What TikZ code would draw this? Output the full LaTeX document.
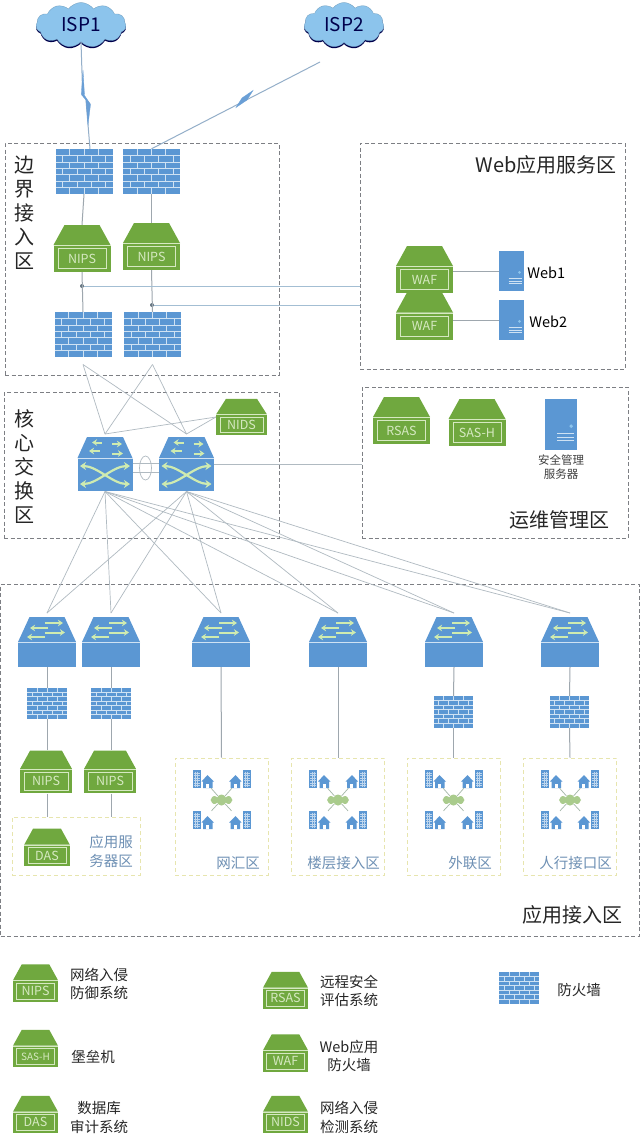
\documentclass[tikz,border=0pt]{standalone}
\usepackage{fontspec}
\setsansfont{Noto Sans CJK SC}
\usepackage{tikz}
\usetikzlibrary{shapes.geometric, shapes.symbols, arrows.meta, positioning, calc, shadows}
\definecolor{boxgreen}{HTML}{70A83F}
\definecolor{boxpale}{HTML}{D6E9C2}
\definecolor{netblue}{HTML}{5B97D3}
\definecolor{brickpale}{HTML}{CFE2F3}
\definecolor{arrowpale}{HTML}{CFEBB0}
\definecolor{skyblue}{HTML}{8CC4EC}
\definecolor{linkgray}{HTML}{B0BAC1}
\definecolor{tapblue}{HTML}{A3BED3}
\definecolor{zonegray}{HTML}{7D7F84}
\definecolor{sitegold}{HTML}{E7E5AE}
\definecolor{sitetext}{HTML}{6E90B4}
\definecolor{boltblue}{HTML}{6A9FD6}

\begin{document}
\begin{tikzpicture}[
        x=1pt, y=-1pt,
        font=\sffamily,
        zone/.style = {rectangle, draw=zonegray, line width=0.8pt, dash pattern=on 4pt off 2.5pt, inner sep=0pt},
        site_zone/.style = {rectangle, draw=sitegold, line width=0.9pt, dash pattern=on 4pt off 3pt, inner sep=0pt},
        zone_title/.style = {font=\sffamily\fontsize{20}{24}\selectfont, text=black!85, inner sep=0pt, align=center},
        site_title/.style = {font=\sffamily\fontsize{14.5}{19}\selectfont, text=sitetext, inner sep=0pt, align=center},
        legend_text/.style = {font=\sffamily\fontsize{14.5}{18.5}\selectfont, text=black!85, inner sep=0pt, align=center},
        isp_cloud/.style = {cloud, cloud puffs=11, cloud puff arc=110, aspect=2, fill=skyblue, draw=skyblue!80!black, line width=0.3pt, minimum width=90pt, minimum height=45pt, inner sep=0pt, text=blue!30!black, font=\sffamily\fontsize{19}{22}\selectfont, drop shadow={shadow xshift=0pt, shadow yshift=-1.6pt, fill=blue!30!black, opacity=1}},
        hub_cloud/.style = {cloud, cloud puffs=8, cloud puff arc=140, aspect=2, fill=boxgreen!60, minimum width=22pt, minimum height=11pt, inner sep=0pt},
        sec_body/.style = {rectangle, minimum width=57pt, minimum height=47pt, inner sep=0pt, transform shape},
        sec_text/.style = {text=boxpale, inner sep=0pt, font=\sffamily\fontsize{12.5}{14}\selectfont},
        wall_body/.style = {rectangle, fill=netblue, minimum width=57pt, minimum height=45pt, inner sep=0pt, transform shape},
        brick/.style = {draw=brickpale, line width=0.7pt},
        sw_body/.style = {rectangle, minimum width=58pt, minimum height=50pt, inner sep=0pt, transform shape},
        core_body/.style = {rectangle, minimum width=55pt, minimum height=54pt, inner sep=0pt, transform shape},
        srv_body/.style = {rectangle, fill=netblue, minimum width=25pt, minimum height=40pt, inner sep=0pt, transform shape},
        lot_body/.style = {rectangle, minimum width=21pt, minimum height=18pt, inner sep=0pt},
        flow/.style = {draw=arrowpale, line width=2pt, -{Stealth[length=5pt, width=6.5pt]}},
        flow2/.style = {draw=arrowpale, line width=2.2pt, {Stealth[length=6pt, width=8pt]}-{Stealth[length=6pt, width=8pt]}},
        link/.style = {draw=linkgray, line width=0.7pt},
        drop/.style = {draw=linkgray!90!black, line width=1pt},
        tap/.style = {draw=tapblue, line width=0.9pt},
        spoke/.style = {draw=boxgreen!20!linkgray, line width=0.7pt},
        wan/.style = {draw=linkgray!60!boltblue, line width=1pt},
        bolt/.style = {fill=boltblue, draw=boltblue, line width=0.3pt},
        junction/.style = {circle, fill=tapblue!60!black, minimum size=4pt, inner sep=0pt},
        lag_ring/.style = {ellipse, draw=linkgray, line width=0.7pt, minimum width=12pt, minimum height=24pt, inner sep=0pt},
        pics/secbox/.style = {code={
            \fill[boxgreen] (-28.5,-3.5) -- (-17.5,-23.5) -- (17.5,-23.5) -- (28.5,-3.5) -- cycle;
            \fill[boxgreen] (-28.5,-2.5) rectangle (28.5,23.5);
            \draw[boxpale, line width=0.5pt] (-28.5,-3) -- (28.5,-3);
            \draw[boxpale, line width=0.6pt] (-24,0) rectangle (24,20);
            \node[sec_body] (-box) at (0,0) {};
            \node[sec_text] (-text) at (0,10) {#1};
        }},
        pics/fwall/.style = {code={
            \node[wall_body] (-box) at (0,0) {};
            \coordinate (-out) at (0,30);
            \foreach \row in {1,...,6}
                \draw[brick] (-28.5,-22.5+\row*6.43) -- (28.5,-22.5+\row*6.43);
            \foreach \row in {0,...,6} {
                \foreach \col in {1,...,7} {
                    \pgfmathparse{int(mod(\row+\col,2))}
                    \ifnum\pgfmathresult=0
                        \draw[brick] (-28.5+7.125*\col,-22.5+\row*6.43) -- (-28.5+7.125*\col,-22.5+\row*6.43+6.43);
                    \fi
                }
            }
        }},
        pics/accsw/.style = {code={
            \fill[netblue] (-29,0) -- (-17.5,-25) -- (17.5,-25) -- (29,0) -- cycle;
            \fill[netblue] (-29,1) rectangle (29,25);
            \draw[brickpale, line width=0.5pt] (-29,0.5) -- (29,0.5);
            \node[sw_body] (-box) at (0,0) {};
            \coordinate (-in) at (0,-29);
            \draw[flow] (-2,-19) -- (16,-19);
            \draw[flow] (1,-14) -- (-17,-14);
            \draw[flow] (-2,-9.5) -- (18,-9.5);
            \draw[flow] (-2,-5) -- (-20,-5);
        }},
        pics/coresw/.style = {code={
            \fill[netblue] (-27.5,-6) -- (-18,-27) -- (18,-27) -- (27.5,-6) -- cycle;
            \fill[netblue] (-27.5,-5) rectangle (27.5,27);
            \draw[brickpale, line width=0.5pt] (-27.5,-5.5) -- (27.5,-5.5);
            \node[core_body] (-box) at (0,0) {};
            \coordinate (-in) at (0,-30);
            \coordinate (-out) at (0,27.5);
            \draw[flow] (-3,-21.5) -- (-13,-21.5);
            \draw[flow] (7,-20) -- (17,-20);
            \draw[flow] (-5,-13) -- (-16,-13);
            \draw[flow] (7,-10.5) -- (18,-10.5);
            \draw[flow2] (-25,2) .. controls (-8,2) and (8,20) .. (25,20);
            \draw[flow2] (-25,20) .. controls (-8,20) and (8,2) .. (25,2);
        }},
        pics/srv/.style = {code={
            \node[srv_body] (-box) at (0,0) {};
            \fill[skyblue] (8,1.3) circle (1.5);
            \foreach \ly in {7,10,12.7}
                \draw[brickpale, line width=0.6pt] (-3,\ly) -- (10,\ly);
        }},
        pics/lot/.style = {code={
            \node[lot_body] (-box) at (0,0) {};
            \fill[netblue] (-10.5,-9) rectangle (-2.5,9);
            \foreach \ly in {-6,-3.5,...,7}
                \draw[white!60!netblue, line width=0.4pt] (-9.5,\ly) -- (-3.5,\ly);
            \foreach \lx in {-7.5,-5.5}
                \draw[white!60!netblue, line width=0.4pt] (\lx,-7.5) -- (\lx,7.5);
            \fill[netblue] (-1.5,2.5) -- (4.5,-4) -- (11,2.5) -- (9.5,2.5) -- (9.5,9) -- (0,9) -- (0,2.5) -- cycle;
            \fill[white] (3.2,4.5) rectangle (6.2,9);
        }},
        pics/campus/.style = {code={
            \node[hub_cloud] (-hub) at (0,0) {};
            \pic (-ul) at (-18.5,-21) {lot};
            \pic[xscale=-1] (-ur) at (18.5,-21) {lot};
            \pic (-ll) at (-18.5,20) {lot};
            \pic[xscale=-1] (-lr) at (18.5,20) {lot};
            \foreach \corner in {ul,ur,ll,lr}
                \draw[spoke] (-hub) -- (-\corner-box);
        }}
    ]
    \useasboundingbox[fill=white] (0,0) rectangle (640,1143);

    % Zones
    \node [zone, minimum width=274pt, minimum height=232pt] (edge_zone) at (142,259) {};
    \node [zone, minimum width=265pt, minimum height=226pt] (web_zone) at (492.5,256) {};
    \node [zone, minimum width=275pt, minimum height=146pt] (core_zone) at (141.5,465) {};
    \node [zone, minimum width=266pt, minimum height=151pt] (ops_zone) at (495,462.5) {};
    \node [zone, minimum width=638.5pt, minimum height=352pt] (app_zone) at (319.8,760) {};
    \node [zone_title] (edge_title) at (24,213) {\fontsize{20}{23.6}\selectfont 边\\界\\接\\入\\区};
    \node [zone_title] (core_title) at (24,467) {\fontsize{20}{23.8}\selectfont 核\\心\\交\\换\\区};
    \node [zone_title, anchor=east] (web_title) at (617,165) {Web应用服务区};
    \node [zone_title, anchor=east] (ops_title) at (610,520) {运维管理区};
    \node [zone_title, anchor=east] (app_title) at (623,915) {应用接入区};

    % Uplinks
    \node [isp_cloud] (isp1) at (81,25) {ISP1};
    \node [isp_cloud, minimum width=80pt] (isp2) at (344,25) {ISP2};
    \coordinate (isp2_out) at (320,62);

    % Edge zone
    \pic (fwa) at (84,171.5) {fwall};
    \pic (fwb) at (151.5,171.5) {fwall};
    \pic (nipsa) at (82,248.5) {secbox=NIPS};
    \pic (nipsb) at (151.5,246.5) {secbox=NIPS};
    \pic (fwc) at (83,334.5) {fwall};
    \pic (fwd) at (152.5,334.5) {fwall};
    \node [junction] (tapa) at (82,286) {};
    \node [junction] (tapb) at (152,305) {};

    % Web zone
    \pic (wafa) at (424.5,269.5) {secbox=WAF};
    \pic (wafb) at (424.5,316) {secbox=WAF};
    \pic (weba) at (511.5,271) {srv};
    \pic (webb) at (511.5,320) {srv};
    \node [legend_text, text=black, anchor=west, right=3pt of weba-box.east, yshift=-2pt] (weba_name) {Web1};
    \node [legend_text, text=black, anchor=west, right=5pt of webb-box.east, yshift=-2pt] (webb_name) {Web2};

    % Core zone
    \pic (corea) at (105,464) {coresw};
    \pic (coreb) at (186.5,464) {coresw};
    \pic[xscale=0.89, yscale=0.77] (nids) at (241.5,417) {secbox=NIDS};
    \node [lag_ring] (lag) at (145.5,468) {};

    % Ops zone
    \pic (rsas) at (401.5,420.5) {secbox=RSAS};
    \pic (sash) at (477,422.5) {secbox=SAS-H};
    \pic[scale=1.28] (mgr) at (561,424.5) {srv};
    \node [font=\sffamily\fontsize{11.5}{14}\selectfont, text=black!75, align=center, inner sep=0pt, below=4pt of mgr-box] (mgr_name) {安全管理\\服务器};

    % Access switches
    \foreach \acc/\cx in {acca/47, accb/111, accc/221, accd/338, acce/454, accf/570}
        \pic (\acc) at (\cx,642) {accsw};

    % Application servers
    \pic[scale=0.7] (fwe) at (47,703.5) {fwall};
    \pic[scale=0.7] (fwf) at (111,703.5) {fwall};
    \pic[scale=0.91] (nipsc) at (46,772) {secbox=NIPS};
    \pic[scale=0.91] (nipsd) at (110,772) {secbox=NIPS};
    \node [site_zone, minimum width=128pt, minimum height=58pt] (das_zone) at (76,846) {};
    \pic[scale=0.8] (das) at (47,847.5) {secbox=DAS};
    \node [site_title] (das_title) at (111,851.5) {应用服\\务器区};

    % Sites
    \foreach \tag/\cx/\tx/\title in {a/221.5/260/网汇区, b/338/380/楼层接入区, c/453.5/492/外联区, d/570/612/人行接口区} {
        \node [site_zone, minimum width=93pt, minimum height=117pt] (site_\tag) at (\cx,816.5) {};
        \pic (lan_\tag) at (\cx,800) {campus};
        \node [site_title, anchor=east] (title_\tag) at (\tx,863) {\title};
    }
    \pic[scale=0.7] (fwg) at (453.5,712) {fwall};
    \pic[scale=0.7] (fwh) at (569.5,712) {fwall};

    % Legend
    \pic[scale=0.79] (key_nips) at (35.5,983) {secbox=NIPS};
    \pic[scale=0.79, sec_text/.append style={font=\sffamily\fontsize{10}{12}\selectfont}] (key_sash) at (35.5,1048.5) {secbox=SAS-H};
    \pic[scale=0.79] (key_das) at (35.5,1114.5) {secbox=DAS};
    \pic[scale=0.79] (key_rsas) at (285.5,990.5) {secbox=RSAS};
    \pic[scale=0.79] (key_waf) at (285.5,1053) {secbox=WAF};
    \pic[scale=0.79] (key_nids) at (285.5,1114.5) {secbox=NIDS};
    \pic[scale=0.7] (key_fw) at (519,988) {fwall};
    \node [legend_text] (key_nips_name) at (99,984) {网络入侵\\防御系统};
    \node [legend_text] (key_sash_name) at (93,1057) {堡垒机};
    \node [legend_text] (key_das_name) at (99,1117.5) {数据库\\审计系统};
    \node [legend_text] (key_rsas_name) at (349,991) {远程安全\\评估系统};
    \node [legend_text] (key_waf_name) at (349,1056) {Web应用\\防火墙};
    \node [legend_text] (key_nids_name) at (349,1117.5) {网络入侵\\检测系统};
    \node [legend_text] (key_fw_name) at (579,990) {防火墙};

    % Connections
    \draw [wan] (isp1.south) -- (82.7,95) -- (90,104) -- (86,100) -- ([xshift=6pt]fwa-box.north);
    \fill [bolt] (83,70) -- (84.5,95.5) -- (90.5,104.5) -- (88,125) -- (86,100) -- (81.3,94.5) -- cycle;
    \draw [wan] (isp2_out) -- (fwb-box.north);
    \fill [bolt] (253,90.5) -- (247,100) -- (236,107.5) -- (242,98) -- cycle;

    \draw [drop] (fwa-box.south) -- (nipsa-box.north);
    \draw [drop] (fwb-box.south) -- (nipsb-box.north);
    \draw [drop] (nipsa-box.south) -- (fwc-box.north);
    \draw [drop] (nipsb-box.south) -- (fwd-box.north);
    \draw [tap] (tapa) -- (tapa -| web_zone.west);
    \draw [tap] (tapb) -- (tapb -| web_zone.west);
    \draw [drop] (wafa-box.east |- weba-box.west) -- (weba-box.west);
    \draw [drop] (wafb-box.east |- webb-box.west) -- (webb-box.west);

    \foreach \wall in {fwc, fwd}
        \foreach \core in {corea, coreb}
            \draw [link] (\wall-out) -- (\core-in);
    \draw [link] (nids-box.west) -- (corea-in);
    \draw [link] (nids-box.west) -- (coreb-in);
    \draw [link] ([yshift=1pt]corea-box.east) -- ([yshift=1pt]coreb-box.west);
    \draw [link] ([yshift=-8pt]corea-box.east) -- ([yshift=-8pt]coreb-box.west);
    \draw [link] (coreb-box.east) -- (coreb-box.east -| ops_zone.west);

    \foreach \core in {corea, coreb}
        \foreach \acc in {acca, accb, accc, accd, acce, accf}
            \draw [link] (\core-out) -- (\acc-in);

    \draw [drop] (acca-box.south) -- (fwe-box.north);
    \draw [drop] (accb-box.south) -- (fwf-box.north);
    \draw [drop] (fwe-box.south) -- (fwe-box.south |- nipsc-box.north);
    \draw [drop] (fwf-box.south) -- (fwf-box.south |- nipsd-box.north);
    \draw [drop] (nipsc-box.south -| acca-box.south) -- (acca-box.south |- das_zone.north);
    \draw [drop] (nipsd-box.south -| accb-box.south) -- (accb-box.south |- das_zone.north);
    \draw [drop] (accc-box.south) -- (site_a.north);
    \draw [drop] (accd-box.south) -- (site_b.north);
    \draw [drop] (acce-box.south) -- (fwg-box.north);
    \draw [drop] (accf-box.south) -- (fwh-box.north);
    \draw [drop] (fwg-box.south) -- (site_c.north);
    \draw [drop] (fwh-box.south) -- (site_d.north);

\end{tikzpicture}
\end{document}
